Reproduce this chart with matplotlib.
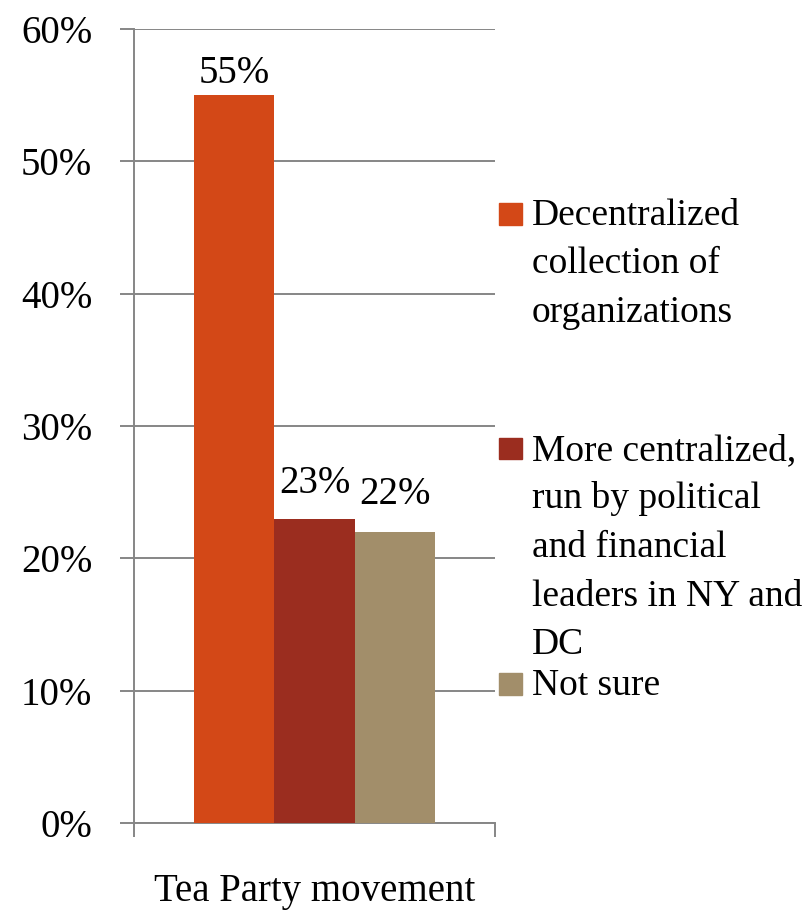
import numpy as np
import matplotlib.pyplot as plt
from matplotlib.patches import Rectangle

# Datos
categoria = "Tea Party movement"
series = ["Decentralized\ncollection of\norganizations",
          "More centralized,\nrun by political\nand financial\nleaders in NY and\nDC",
          "Not sure"]
valores = [0.55, 0.23, 0.22]
colores = ["#D34817", "#9B2D1F", "#A28E6A"]
yticks = [0.0, 0.1, 0.2, 0.3, 0.4, 0.5, 0.6]

plt.rcParams["font.family"] = ["Liberation Serif", "DejaVu Serif"]
gris = "#868686"
fs = 28

fig = plt.figure(figsize=(8.08, 9.14), dpi=100)
ax = fig.add_axes([0.1658, 0.0996, 0.4468, 0.8687])

ancho = 0.223
offsets = np.array([-1, 0, 1]) * ancho
# separación (px) entre la barra y la línea base de su etiqueta, como en la referencia
sep_etiqueta = [12, 26, 28]
for i in range(len(valores)):
    ax.bar(offsets[i], valores[i], width=ancho, color=colores[i], zorder=3)
    ax.annotate("{:.0f}%".format(valores[i] * 100), (offsets[i], valores[i]),
                xytext=(0, sep_etiqueta[i]), textcoords="offset pixels",
                ha="center", va="baseline", fontsize=fs, zorder=4)

ax.set_xlim(-0.5, 0.5)
ax.set_ylim(0, 0.6)
ax.set_yticks(yticks)
ax.set_yticklabels(["{:.0f}%".format(v * 100) for v in yticks], fontsize=fs)
ax.yaxis.grid(True, color=gris, linewidth=1.4, zorder=0)
ax.set_xticks([-0.5, 0.5])
ax.set_xticklabels(["", ""])
ax.set_xticks([0], minor=True)
ax.set_xticklabels([categoria], minor=True, fontsize=fs)
ax.tick_params(axis="x", which="major", length=10, width=1.4, color=gris)
ax.tick_params(axis="x", which="minor", length=0, pad=36)
ax.tick_params(axis="y", length=10, width=1.4, color=gris, pad=20)

for lado in ["top", "right"]:
    ax.spines[lado].set_visible(False)
for lado in ["left", "bottom"]:
    ax.spines[lado].set_color(gris)
    ax.spines[lado].set_linewidth(1.4)

# Leyenda manual (líneas base de la primera línea de cada entrada, en píxeles)
leyenda_base = [225, 460, 695]
paso = 48.5
for i in range(len(series)):
    y0 = leyenda_base[i]
    fig.patches.append(Rectangle((499 / 808, 1 - (y0 - 0.5) / 914), 23 / 808, 22 / 914,
                                 transform=fig.transFigure, color=colores[i]))
    for k, linea in enumerate(series[i].split("\n")):
        fig.text(532 / 808, 1 - (y0 + k * paso) / 914, linea, ha="left",
                 va="baseline", fontsize=27)

fig.savefig("out.png", dpi=100)
